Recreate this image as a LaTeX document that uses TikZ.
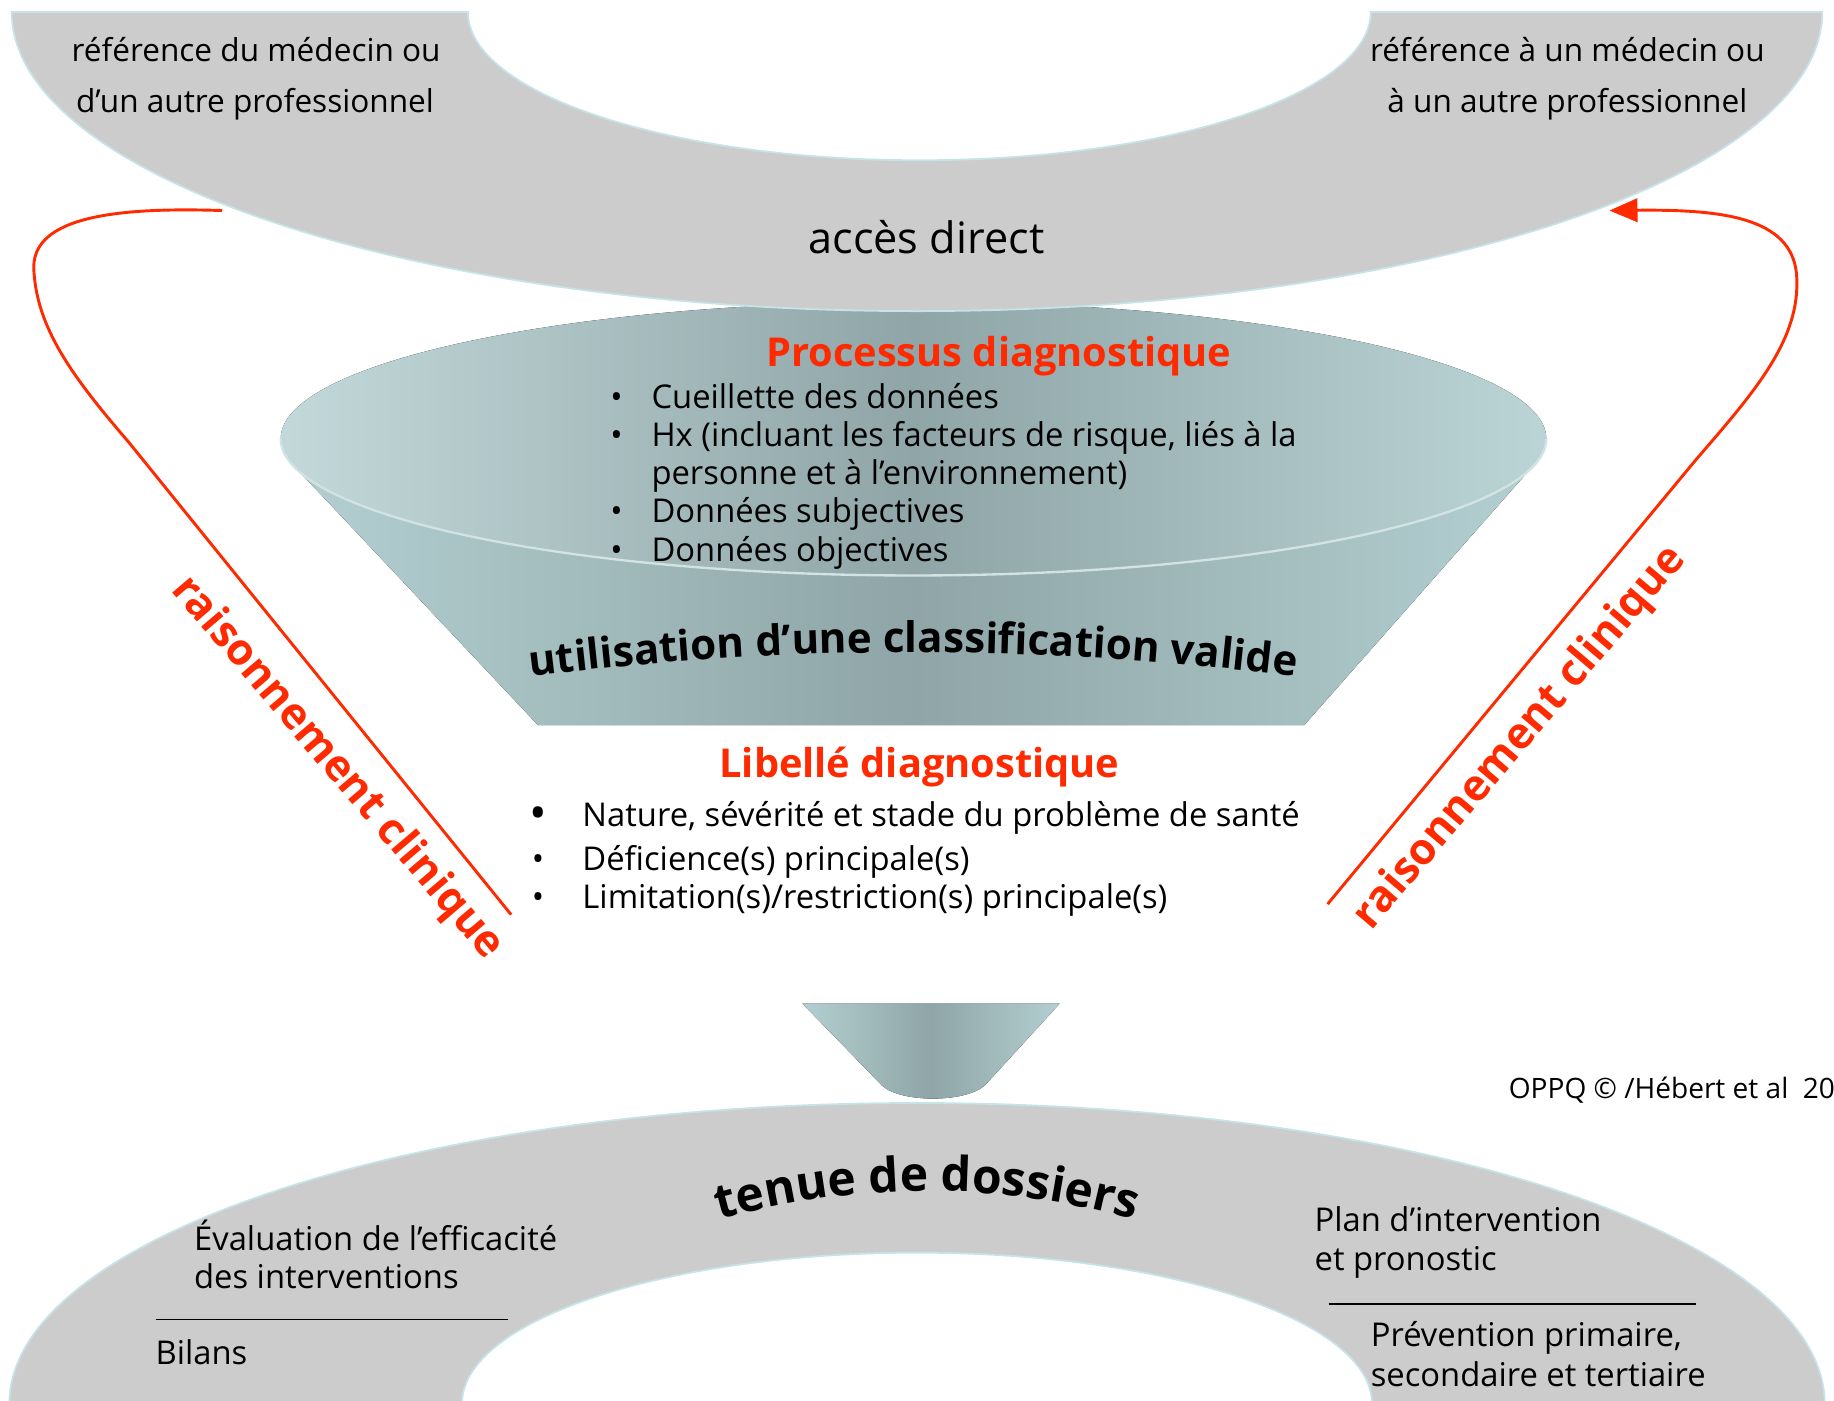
\documentclass[tikz,border=0pt]{standalone}
\usepackage{fontspec}
\setmainfont{Open Sans}
\usetikzlibrary{decorations.text,arrows.meta}
\definecolor{bandgray}{HTML}{CCCCCC}
\definecolor{bandedge}{HTML}{C6E4E8}
\definecolor{redc}{HTML}{FF2A00}
\definecolor{fl}{HTML}{B3CFD1}
\definecolor{fd}{HTML}{8FA5A7}
\definecolor{rim}{HTML}{D3E2E2}
\newcommand{\fsz}[1]{\fontsize{#1}{#1}\selectfont}
\begin{document}
\begin{tikzpicture}[x=1pt,y=-1pt,
  txt/.style={inner sep=0pt,outer sep=0pt,anchor=base west,font=\fsz{28}},
  ctxt/.style={inner sep=0pt,outer sep=0pt,anchor=base,font=\fsz{27}},
  bul/.style={inner sep=0pt,outer sep=0pt,anchor=base,font=\fsz{28}},
  redtitle/.style={inner sep=0pt,outer sep=0pt,anchor=base,text=redc,font=\fsz{34}\bfseries},
  redrot/.style={inner sep=0pt,outer sep=0pt,anchor=center,text=redc,font=\fsz{37}\bfseries},
  redline/.style={draw=redc,line width=2.5pt},
  cone/.style={left color=fl,right color=fl,middle color=fd},
  sep/.style={draw=black,line width=1.5pt}]
\useasboundingbox (0,0) rectangle (1568,1197);

% ---------- big funnel ----------
\fill[cone] (251,398) -- (460,620) -- (1115,620) -- (1311,398) -- cycle;
\fill[left color=fl!80!white,right color=fl!90!white,middle color=fd] (781,375) ellipse [x radius=541pt,y radius=117pt];
\draw[rim,line width=2pt] (240,375) arc[start angle=180,end angle=360,x radius=541pt,y radius=117pt];

% ---------- small funnel ----------
\fill[cone] (686,858) -- (906,858) -- (842,928) .. controls (825,943) and (770,943) .. (754,928) -- cycle;

% ---------- top band ----------
\begin{scope}
\clip (0,10) rectangle (1568,420);
\fill[bandgray,even odd rule] (784,10) ellipse [x radius=774pt,y radius=256pt]
      (786,10) ellipse [x radius=386pt,y radius=127pt];
\draw[bandedge,line width=1.5pt] (784,10) ellipse [x radius=774pt,y radius=256pt];
\draw[bandedge,line width=1.5pt] (786,10) ellipse [x radius=386pt,y radius=127pt];
\end{scope}
\draw[bandedge,line width=1.5pt] (10,10) -- (400,10) (1172,10) -- (1558,10);

% ---------- bottom band ----------
\begin{scope}
\clip (0,900) rectangle (1568,1197);
\fill[bandgray,even odd rule] (784,1200) ellipse [x radius=776pt,y radius=257pt]
      (784,1200) ellipse [x radius=389pt,y radius=129pt];
\draw[bandedge,line width=1.5pt] (784,1200) ellipse [x radius=776pt,y radius=257pt];
\draw[bandedge,line width=1.5pt] (784,1200) ellipse [x radius=389pt,y radius=129pt];
\end{scope}

% ---------- top texts ----------
\node[ctxt] (refdu1) at (219,53) {référence du médecin ou};
\node[ctxt] (refdu2) at (218,96) {d’un autre professionnel};
\node[ctxt] (refa1) at (1340,53) {référence à un médecin ou};
\node[ctxt] (refa2) at (1340,96) {à un autre professionnel};
\node[ctxt,font=\fsz{37}] (acces) at (792,217) {accès direct};

% ---------- funnel texts ----------
\node[redtitle] (proc) at (854,313) {Processus diagnostique};
\foreach \yy/\nm in {349/b1,382/b2,447/b4,480/b5}{\node[bul] (\nm) at (527,\yy) {•};}
\node[txt] (l1) at (557,349) {Cueillette des données};
\node[txt] (l2) at (557,382) {Hx (incluant les facteurs de risque, liés à la};
\node[txt] (l3) at (557,414) {personne et à l’environnement)};
\node[txt] (l4) at (557,447) {Données subjectives};
\node[txt] (l5) at (557,480) {Données objectives};
\path[decorate,decoration={text along path,text align=center,
   text={|\fsz{36}\bfseries|utilisation d'une classification valide}}]
   (458,578) .. controls (673,551) and (888,551) .. (1103,578);

% ---------- libelle ----------
\node[redtitle] (lib) at (786,665) {Libellé diagnostique};
\node[bul,font=\fsz{40}] (c1) at (460,709) {•};
\node[bul] (c2) at (460,744) {•};
\node[bul] (c3) at (460,777) {•};
\node[txt] (m1) at (498,707) {Nature, sévérité et stade du problème de santé};
\node[txt] (m2) at (498,744) {Déficience(s) principale(s)};
\node[txt] (m3) at (498,777) {Limitation(s)/restriction(s) principale(s)};

% ---------- copyright ----------
\node[txt,font=\fsz{24}] (cop) at (1290,939) {OPPQ © /Hébert et al\ \ 20};

% ---------- bottom texts ----------
\path[decorate,decoration={text along path,text align=center,
   text={|\fsz{41}\bfseries|tenue de dossiers}}]
   (615,1043) .. controls (733,1010) and (852,1010) .. (970,1043);
\node[txt] (ev1) at (166,1069) {Évaluation de l’efficacité};
\node[txt] (ev2) at (166,1102) {des interventions};
\coordinate (s1a) at (133,1128); \coordinate (s1b) at (434,1128);
\draw[sep] (s1a) -- (s1b);
\node[txt] (bil) at (133,1167) {Bilans};
\node[txt] (pl1) at (1124,1053) {Plan d’intervention};
\node[txt] (pl2) at (1124,1086) {et pronostic};
\coordinate (s2a) at (1136,1115); \coordinate (s2b) at (1450,1115);
\draw[sep] (s2a) -- (s2b);
\node[txt] (pr1) at (1172,1151) {Prévention primaire,};
\node[txt] (pr2) at (1172,1185) {secondaire et tertiaire};

% ---------- red loops ----------
\coordinate (Lstart) at (190,180);
\coordinate (Lend) at (437,782);
\draw[redline] (Lstart) .. controls (100,177) and (25,185) .. (29,232)
   .. controls (32,280) and (60,320) .. (110,378) -- (Lend);
\coordinate (Rstart) at (1135,773);
\coordinate (Rtip) at (1376,180);
\draw[redline,-{Triangle[length=24pt,width=20pt]}] (Rstart) -- (1450,393)
   .. controls (1500,335) and (1540,290) .. (1536,235)
   .. controls (1532,185) and (1470,179) .. (Rtip);
\node[redrot,rotate=-49.6] (rc1) at (288,657) {raisonnement clinique};
\node[redrot,rotate=49.7] (rc2) at (1300,631) {raisonnement clinique};
\end{tikzpicture}
\end{document}
